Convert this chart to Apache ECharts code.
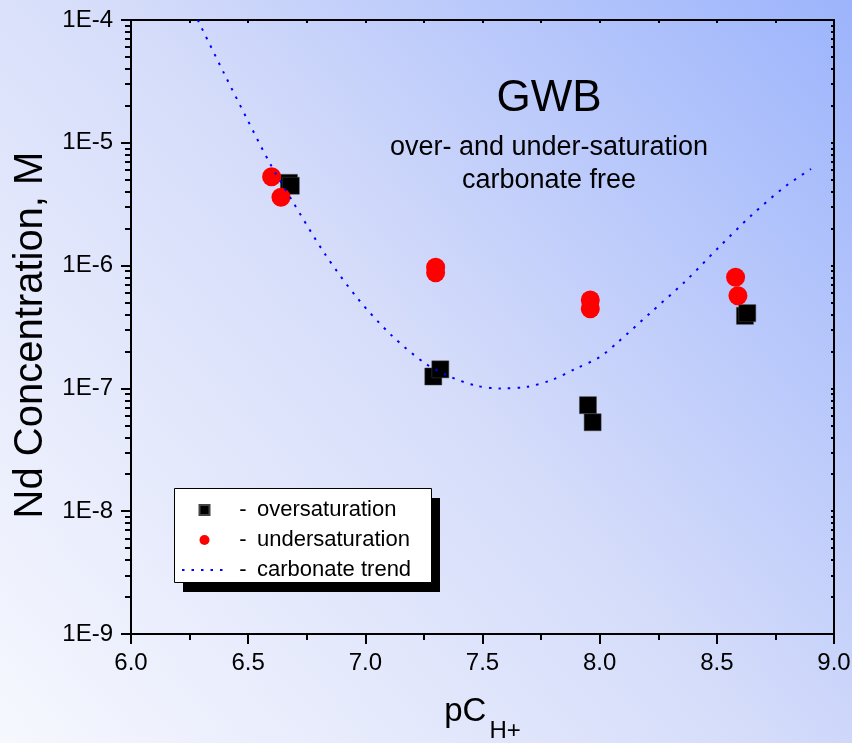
<!DOCTYPE html>
<html>
<head>
<meta charset="utf-8">
<script src="https://cdn.jsdelivr.net/npm/echarts@6/dist/echarts.min.js"></script>
<style>
  html, body { margin: 0; padding: 0; }
  #chart { width: 852px; height: 743px; }
</style>
</head>
<body>
<div id="chart"></div>
<script>
// Nd solubility vs. pCH+ (GWB, carbonate free)
const overX = [6.674, 6.682, 7.29, 7.32, 7.95, 7.97, 8.62, 8.63];
const overY = [4.72e-6, 4.47e-6, 1.25e-7, 1.43e-7, 7.3e-8, 5.3e-8, 3.9e-7, 4.1e-7];

const underX = [6.60, 6.64, 7.30, 7.30, 7.96, 7.96, 8.58, 8.59];
const underY = [5.3e-6, 3.6e-6, 9.7e-7, 8.75e-7, 5.25e-7, 4.46e-7, 8.05e-7, 5.69e-7];

const trendX = [6.285, 6.397, 6.494, 6.593, 6.686, 6.828, 6.970, 7.113, 7.255, 7.362,
                7.475, 7.575, 7.689, 7.795, 7.902, 8.002, 8.080, 8.215, 8.364, 8.507,
                8.649, 8.791, 8.902];
const trendY = [1.0e-4, 3.68e-5, 1.58e-5, 6.8e-6, 3.42e-6, 1.24e-6, 5.32e-7, 2.69e-7, 1.60e-7, 1.245e-7,
                1.05e-7, 1.0e-7, 1.03e-7, 1.17e-7, 1.46e-7, 1.81e-7, 2.4e-7, 4.1e-7, 7.4e-7, 1.40e-6,
                2.58e-6, 4.4e-6, 6.12e-6];

const xTickLabels = ['6.0', '6.5', '7.0', '7.5', '8.0', '8.5', '9.0'];
const yTickLabels = ['1E-9', '1E-8', '1E-7', '1E-6', '1E-5', '1E-4'];

const seriesNames = ['oversaturation', 'undersaturation', 'carbonate trend'];

const FONT = "'Liberation Sans', Arial, sans-serif";
const Y_MIN = 1e-9, Y_MAX = 1e-4;

// decade sub-ticks 2..9 for the log axis
const minorLogTicks = [];
const allLogTicks = [];
for (let e = -9; e < -4; e++) {
  allLogTicks.push(Math.pow(10, e));
  for (let m = 2; m <= 9; m++) {
    const v = m * Math.pow(10, e);
    minorLogTicks.push(v);
    allLogTicks.push(v);
  }
}
allLogTicks.push(Y_MAX);

const zip = (xs, ys) => xs.map((x, i) => [x, ys[i]]);

const chart = echarts.init(document.getElementById('chart'), null, { renderer: 'canvas' });

const axisLine = { show: true, lineStyle: { color: '#000', width: 2 } };

// legend frame: white box with a hard black drop shadow
const LEG = { x: 174, y: 488, w: 257, h: 94, dx: 9, dy: 10 };

chart.setOption({
  animation: false,
  backgroundColor: {
    type: 'linear', x: 0, y: 1, x2: 1, y2: 0,
    colorStops: [
      { offset: 0, color: '#f6f8fe' },
      { offset: 0.5, color: '#d6ddfa' },
      { offset: 1, color: '#9cb4fc' }
    ]
  },
  textStyle: { fontFamily: FONT },
  graphic: [
    {
      type: 'rect', z: 10,
      shape: { x: LEG.x + LEG.dx, y: LEG.y + LEG.dy, width: LEG.w, height: LEG.h },
      style: { fill: '#000' }
    },
    {
      type: 'rect', z: 11,
      shape: { x: LEG.x + 0.5, y: LEG.y + 0.5, width: LEG.w, height: LEG.h },
      style: { fill: '#fff', stroke: '#000', lineWidth: 1 }
    }
  ],
  title: {
    text: 'GWB',
    subtext: 'over- and under-saturation\ncarbonate free',
    left: 544,
    top: 72,
    textAlign: 'center',
    itemGap: 10,
    textStyle: { fontFamily: FONT, fontSize: 44, fontWeight: 'normal', color: '#000' },
    subtextStyle: { fontFamily: FONT, fontSize: 27, color: '#000', lineHeight: 33 }
  },
  legend: {
    orient: 'vertical',
    left: LEG.x,
    top: LEG.y,
    z: 20,
    selectedMode: false,
    padding: [11, 20, 3, 7],
    itemWidth: 45,
    itemHeight: 10,
    itemGap: 8,
    data: [
      { name: seriesNames[0], icon: 'path://M0 0H10V10H0Z' },
      { name: seriesNames[1], icon: 'circle' },
      { name: seriesNames[2], itemStyle: { color: 'rgba(0,0,0,0)', borderWidth: 0 } }
    ],
    formatter: name => '{d|-}{t|' + name + '}',
    textStyle: {
      fontFamily: FONT, fontSize: 22, color: '#000',
      rich: {
        d: { fontFamily: FONT, fontSize: 22, lineHeight: 22, width: 22, align: 'center' },
        t: { fontFamily: FONT, fontSize: 22, lineHeight: 22, padding: [0, 0, 0, 3] }
      }
    }
  },
  grid: { left: 131, right: 18, top: 20, bottom: 109, containLabel: false, outerBoundsMode: 'none' },
  xAxis: [
    {
      type: 'value', position: 'bottom', min: 6, max: 9, interval: 0.5,
      axisLine: axisLine,
      axisTick: { show: true, inside: false, length: 10, lineStyle: { color: '#000', width: 2 } },
      minorTick: { show: true, splitNumber: 2, length: 6, lineStyle: { color: '#000', width: 2 } },
      splitLine: { show: false },
      axisLabel: {
        margin: 17, fontFamily: FONT, fontSize: 24, color: '#000',
        formatter: v => xTickLabels[Math.round((v - 6) / 0.5)]
      },
      name: '{a|pC}{b|H+}',
      nameLocation: 'middle',
      nameGap: 61,
      nameTextStyle: {
        rich: {
          a: { fontFamily: FONT, fontSize: 33, color: '#000', verticalAlign: 'top', lineHeight: 33 },
          b: { fontFamily: FONT, fontSize: 24, color: '#000', verticalAlign: 'bottom', lineHeight: 48, padding: [0, 0, 0, 3] }
        }
      }
    },
    {
      type: 'value', position: 'top', min: 6, max: 9, interval: 0.25,
      axisLine: axisLine,
      axisTick: { show: true, inside: true, length: 3, lineStyle: { color: '#000', width: 2 } },
      axisLabel: { show: false },
      splitLine: { show: false }
    }
  ],
  yAxis: [
    {
      type: 'log', logBase: 10, min: Y_MIN, max: Y_MAX, position: 'left',
      axisLine: axisLine,
      axisTick: { show: true, inside: false, length: 10, lineStyle: { color: '#000', width: 2 } },
      splitLine: { show: false },
      axisLabel: {
        margin: 18, fontFamily: FONT, fontSize: 24, color: '#000',
        formatter: v => yTickLabels[Math.round(Math.log10(v)) + 9]
      },
      name: 'Nd Concentration, M',
      nameLocation: 'middle',
      nameRotate: 90,
      nameGap: 76,
      nameTextStyle: { fontFamily: FONT, fontSize: 40, color: '#000', padding: [0, 16, 0, 0] }
    },
    {
      type: 'log', logBase: 10, min: Y_MIN, max: Y_MAX, position: 'left',
      axisLine: { show: false },
      axisTick: { show: true, inside: false, length: 6, customValues: minorLogTicks, lineStyle: { color: '#000', width: 2 } },
      axisLabel: { show: false },
      splitLine: { show: false }
    },
    {
      type: 'log', logBase: 10, min: Y_MIN, max: Y_MAX, position: 'right',
      axisLine: axisLine,
      axisTick: { show: true, inside: true, length: 3, customValues: allLogTicks, lineStyle: { color: '#000', width: 2 } },
      axisLabel: { show: false },
      splitLine: { show: false }
    }
  ],
  series: [
    {
      name: seriesNames[0],
      type: 'scatter',
      xAxisIndex: 0, yAxisIndex: 0,
      symbol: 'rect',
      symbolSize: 17,
      itemStyle: { color: '#000', opacity: 1, borderColor: '#444', borderWidth: 0.5 },
      data: zip(overX, overY),
      z: 3
    },
    {
      name: seriesNames[1],
      type: 'scatter',
      xAxisIndex: 0, yAxisIndex: 0,
      symbol: 'circle',
      symbolSize: 19,
      itemStyle: { color: '#ff0000', opacity: 1 },
      data: zip(underX, underY),
      z: 4
    },
    {
      name: seriesNames[2],
      type: 'line',
      xAxisIndex: 0, yAxisIndex: 0,
      showSymbol: false,
      symbol: 'none',
      smooth: 0.3,
      lineStyle: { color: '#0000ff', width: 2, type: [2.5, 7], cap: 'butt' },
      itemStyle: { color: '#0000ff' },
      data: zip(trendX, trendY),
      z: 5
    }
  ]
});
</script>
</body>
</html>
